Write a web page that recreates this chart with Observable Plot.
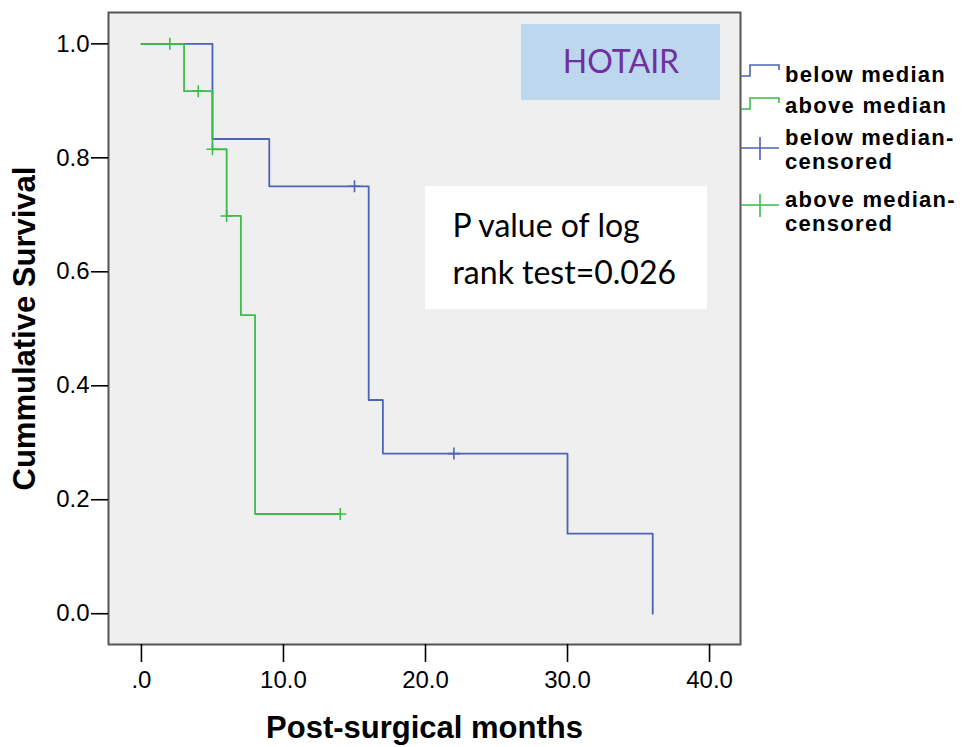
<!DOCTYPE html>
<html>
<head>
<meta charset="utf-8">
<script src="https://cdn.jsdelivr.net/npm/d3@7"></script>
<script src="https://cdn.jsdelivr.net/npm/@observablehq/plot@0.6"></script>
<style>
  html, body { margin: 0; padding: 0; background: #ffffff; }
  #chart svg { display: block; }
</style>
</head>
<body>
<div id="chart"></div>
<script>
// ---- data ----
const belowTime = [0, 5, 9, 16, 17, 30, 36];
const belowSurv = [1.0, 0.833, 0.75, 0.375, 0.281, 0.1405, 0.0];
const belowCensTime = [15, 22];
const belowCensSurv = [0.75, 0.281];

const aboveTime = [0, 3, 5, 6, 7, 8, 14];
const aboveSurv = [1.0, 0.917, 0.815, 0.698, 0.524, 0.175, 0.175];
const aboveCensTime = [2, 4, 5, 6, 14];
const aboveCensSurv = [1.0, 0.917, 0.815, 0.698, 0.175];

const xTicks = [0, 10, 20, 30, 40];
const xTickLabels = [".0", "10.0", "20.0", "30.0", "40.0"];
const yTicks = [0, 0.2, 0.4, 0.6, 0.8, 1.0];
const yTickLabels = ["0.0", "0.2", "0.4", "0.6", "0.8", "1.0"];

const legendLabels = ["below median", "above median", ["below median-", "censored"], ["above median-", "censored"]];
const titleText = "HOTAIR";
const pText = "P value of log\nrank test=0.026";

// annotation anchors in data units
const hotairBox = {x1: 26.76, x2: 40.77, y1: 1.034, y2: 0.9005};
const pBox = {x1: 20.0, x2: 39.86, y1: 0.7495, y2: 0.5336};

const BLUE = "#4d63b6";
const GREEN = "#3cbc4a";

const below = belowTime.map((t, i) => ({t, s: belowSurv[i]}));
const above = aboveTime.map((t, i) => ({t, s: aboveSurv[i]}));
const belowC = belowCensTime.map((t, i) => ({t, s: belowCensSurv[i]}));
const aboveC = aboveCensTime.map((t, i) => ({t, s: aboveCensSurv[i]}));

const plusSymbol = {
  draw(ctx, size) {
    const r = Math.sqrt(size / Math.PI);
    ctx.moveTo(-r, 0); ctx.lineTo(r, 0);
    ctx.moveTo(0, -r); ctx.lineTo(0, r);
  }
};

const plot = Plot.plot({
  width: 969,
  height: 747,
  marginLeft: 108,
  marginRight: 229,
  marginTop: 12,
  marginBottom: 103,
  style: {fontFamily: "'Liberation Sans', Arial, sans-serif", fontSize: "24px", color: "#000", background: "#fff"},
  x: {domain: [-2.32, 42.18]},
  y: {domain: [-0.054, 1.055]},
  marks: [
    Plot.frame({fill: "#efefef", stroke: "none"}),
    Plot.rect([hotairBox], {x1: "x1", x2: "x2", y1: "y1", y2: "y2", fill: "#bdd7ee"}),
    Plot.text([titleText], {x: (hotairBox.x1 + hotairBox.x2) / 2, y: (hotairBox.y1 + hotairBox.y2) / 2,
      fill: "#7030a0", fontSize: 32, fontFamily: "Lato, 'Open Sans', sans-serif", textAnchor: "middle", lineAnchor: "middle"}),
    Plot.rect([pBox], {x1: "x1", x2: "x2", y1: "y1", y2: "y2", fill: "#ffffff"}),
    Plot.text([pText], {x: pBox.x1 + 1.9, y: (pBox.y1 + pBox.y2) / 2 + 0.004, fill: "#000", fontSize: 32,
      lineHeight: 1.47, fontFamily: "Lato, 'Open Sans', sans-serif", textAnchor: "start", lineAnchor: "middle"}),
    Plot.line(below, {x: "t", y: "s", curve: "step-after", stroke: BLUE, strokeWidth: 1.8}),
    Plot.line(above, {x: "t", y: "s", curve: "step-after", stroke: GREEN, strokeWidth: 1.8}),
    Plot.dot(belowC, {x: "t", y: "s", symbol: plusSymbol, r: 6, stroke: BLUE, strokeWidth: 1.6, fill: "none"}),
    Plot.dot(aboveC, {x: "t", y: "s", symbol: plusSymbol, r: 6, stroke: GREEN, strokeWidth: 1.6, fill: "none"}),
    Plot.frame({stroke: "#555", strokeWidth: 2, fill: "none"}),
    Plot.axisX({ticks: xTicks, tickFormat: d => xTickLabels[xTicks.indexOf(d)], tickSize: 18, tickPadding: 8,
      label: null, strokeWidth: 1.6}),
    Plot.axisY({ticks: yTicks, tickFormat: d => yTickLabels[yTicks.findIndex(v => Math.abs(v - d) < 1e-9)], tickSize: 17, tickPadding: 2,
      label: null, strokeWidth: 1.6}),
    Plot.text(["Post-surgical months"], {frameAnchor: "bottom", dy: 84, fontSize: 31, fontWeight: "bold",
      textAnchor: "middle", lineAnchor: "middle", fill: "#000"}),
    Plot.text(["Cummulative Survival"], {frameAnchor: "left", dx: -83, rotate: -90, fontSize: 31, fontWeight: "bold",
      textAnchor: "middle", lineAnchor: "middle", fill: "#000"})
  ]
});

// ---- tick label size (override any axis default) ----
const svg = d3.select(plot);
svg.selectAll('g[aria-label="x-axis tick label"], g[aria-label="y-axis tick label"]')
  .style("font-size", "24px").attr("font-size", 24);

// ---- legend (right of the frame) ----
const lg = svg.append("g").attr("fill", "none").attr("text-anchor", "start");
const legendItems = [
  {kind: "step", color: BLUE, y: 76, lines: [legendLabels[0]], base: 82},
  {kind: "step", color: GREEN, y: 109, lines: [legendLabels[1]], base: 113},
  {kind: "plus", color: BLUE, y: 148, lines: legendLabels[2], base: 145},
  {kind: "plus", color: GREEN, y: 205, lines: legendLabels[3], base: 207}
];
legendItems.forEach(it => {
  const p = it.kind === "step"
    ? `M741,${it.y}H750V${it.y - 11}H779V${it.y - 6}`
    : `M741,${it.y}H779M760,${it.y - 11}V${it.y + 12}`;
  lg.append("path").attr("d", p).attr("stroke", it.color).attr("stroke-width", 1.6);
  it.lines.forEach((ln, j) => {
    lg.append("text").attr("x", 785).attr("y", it.base + j * 24)
      .attr("text-anchor", "start")
      .attr("fill", "#000").attr("font-size", 22).attr("font-weight", "bold")
      .attr("letter-spacing", "1.3px")
      .attr("font-family", "'Liberation Sans', Arial, sans-serif")
      .text(ln);
  });
});

document.getElementById("chart").appendChild(plot);
</script>
</body>
</html>
